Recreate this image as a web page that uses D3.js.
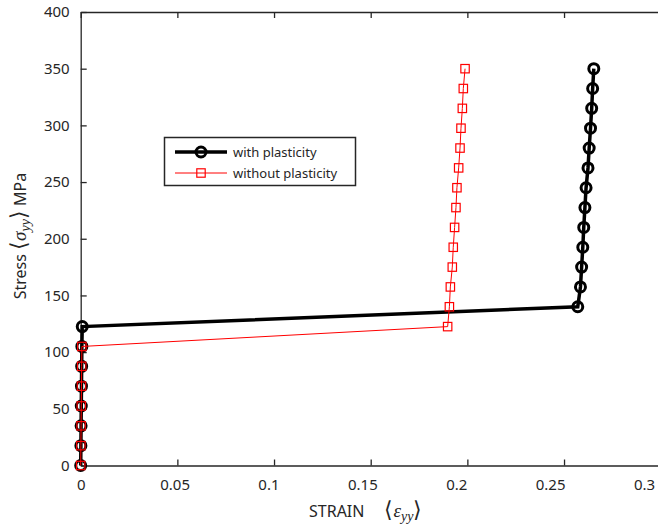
<!DOCTYPE html>
<html>
<head>
<meta charset="utf-8">
<script src="https://cdn.jsdelivr.net/npm/d3@7"></script>
<style>
  html, body { margin: 0; padding: 0; background: #fff; }
  svg { display: block; }
  .tick text { font-family: "Noto Sans", sans-serif; font-size: 15px; fill: #262626; }
</style>
</head>
<body>
<svg id="chart" width="658" height="528"></svg>
<script>
// Average stress (MPa) at each load step
const stressLevels = [0, 17.5, 35, 52.5, 70, 87.5, 105, 122.5, 140, 157.5, 175, 192.5,
                      210, 227.5, 245, 262.5, 280, 297.5, 315, 332.5, 350];

// Average strain with plasticity (one value per stress level)
const strainPlastic = [0, 0.0001, 0.0002, 0.0003, 0.0004, 0.0005, 0.0006, 0.0008,
                       0.2571, 0.2585, 0.2591, 0.2597, 0.2602, 0.2608, 0.2614,
                       0.2624, 0.2630, 0.2637, 0.2643, 0.2648, 0.2654];

// Average strain without plasticity (starts at 0 MPa, stops at 350 MPa)
const strainElastic = [0, 0.0001, 0.0002, 0.0003, 0.0004, 0.0005, 0.0006,
                       0.1898, 0.1907, 0.1912, 0.1922, 0.1927, 0.1934, 0.1941,
                       0.1946, 0.1955, 0.1962, 0.1967, 0.1974, 0.1979, 0.1988];

const xTicks = [0, 0.05, 0.1, 0.15, 0.2, 0.25, 0.3];
const yTicks = [0, 50, 100, 150, 200, 250, 300, 350, 400];
const seriesNames = ["with plasticity", "without plasticity"];

const svg = d3.select("#chart");
const axisColor = "#262626";

const x = d3.scaleLinear().domain([0, 0.3]).range([80.7, 660.7]);
const xLab = d3.scaleLinear().domain([0, 0.3]).range([80.7, 644]);
const y = d3.scaleLinear().domain([0, 400]).range([465.5, 12]);

const plastic = stressLevels.map((s, i) => ({ e: strainPlastic[i], s }));
const elastic = stressLevels.map((s, i) => ({ e: strainElastic[i], s }));

// Axes: inward ticks on bottom, top and left
const gBottom = svg.append("g").attr("transform", `translate(0,${y(0)})`)
  .call(d3.axisBottom(x).tickValues(xTicks).tickFormat("").tickSizeInner(-6).tickSizeOuter(0));
const gBottomLab = svg.append("g").attr("transform", `translate(0,${y(0)})`)
  .call(d3.axisBottom(xLab).tickValues(xTicks).tickFormat(d3.format("~g")).tickSize(0).tickPadding(14));
gBottomLab.select(".domain").remove();
const gTop = svg.append("g").attr("transform", `translate(0,${y(400)})`)
  .call(d3.axisTop(x).tickValues(xTicks).tickFormat("").tickSizeInner(-6).tickSizeOuter(0));
const gLeft = svg.append("g").attr("transform", `translate(${x(0)},0)`)
  .call(d3.axisLeft(y).tickValues(yTicks).tickSizeInner(-6).tickSizeOuter(0).tickPadding(11));

[gBottom, gTop, gLeft].forEach(g => {
  g.select(".domain").attr("stroke", axisColor).attr("stroke-width", 1.3);
  g.selectAll(".tick line").attr("stroke", axisColor).attr("stroke-width", 1.3);
});

// Series lines
const line = d3.line().x(d => x(d.e)).y(d => y(d.s));

svg.append("path").datum(plastic)
  .attr("d", line).attr("fill", "none").attr("stroke", "#000").attr("stroke-width", 3.5);
svg.append("g").selectAll("circle").data(plastic).join("circle")
  .attr("cx", d => x(d.e)).attr("cy", d => y(d.s)).attr("r", 5)
  .attr("fill", "none").attr("stroke", "#000").attr("stroke-width", 3);

svg.append("path").datum(elastic)
  .attr("d", line).attr("fill", "none").attr("stroke", "#ff0000").attr("stroke-width", 1);
svg.append("g").selectAll("rect").data(elastic).join("rect")
  .attr("x", d => x(d.e) - 4.2).attr("y", d => y(d.s) - 4.2)
  .attr("width", 8.4).attr("height", 8.4)
  .attr("fill", "none").attr("stroke", "#ff0000").attr("stroke-width", 1.2);

// Legend
const lg = svg.append("g");
lg.append("rect").attr("x", 164.5).attr("y", 137.5).attr("width", 191).attr("height", 48)
  .attr("fill", "#fff").attr("stroke", axisColor).attr("stroke-width", 1.5);
const rows = [
  { name: seriesNames[0], yy: 152, color: "#000", w: 3.5, mark: "circle" },
  { name: seriesNames[1], yy: 173, color: "#ff0000", w: 1, mark: "square" }
];
rows.forEach(r => {
  lg.append("line").attr("x1", 175).attr("x2", 227).attr("y1", r.yy).attr("y2", r.yy)
    .attr("stroke", r.color).attr("stroke-width", r.w);
  if (r.mark === "circle") {
    lg.append("circle").attr("cx", 201).attr("cy", r.yy).attr("r", 5)
      .attr("fill", "none").attr("stroke", r.color).attr("stroke-width", 3);
  } else {
    lg.append("rect").attr("x", 196.8).attr("y", r.yy - 4.2).attr("width", 8.4).attr("height", 8.4)
      .attr("fill", "none").attr("stroke", r.color).attr("stroke-width", 1.2);
  }
  lg.append("text").attr("x", 233).attr("y", r.yy + 4.5)
    .attr("font-family", "Noto Sans, sans-serif").attr("font-size", 13).attr("fill", axisColor)
    .text(r.name);
});

// Axis titles
const xt = svg.append("text").attr("x", 309).attr("y", 517)
  .attr("font-family", "Noto Sans, sans-serif").attr("font-size", 16).attr("fill", axisColor);
xt.append("tspan").text("STRAIN");
xt.append("tspan").attr("dx", 20).attr("font-family", "Liberation Serif, serif").attr("font-size", 22).text("⟨");
xt.append("tspan").attr("font-family", "Liberation Serif, serif").attr("font-style", "italic").attr("font-size", 19).text("ε");
xt.append("tspan").attr("font-family", "Liberation Serif, serif").attr("font-style", "italic").attr("font-size", 14).attr("dy", 4).text("yy");
xt.append("tspan").attr("dy", -4).attr("font-family", "Liberation Serif, serif").attr("font-size", 22).text("⟩");

const yt = svg.append("text").attr("transform", "translate(26,236) rotate(-90)")
  .attr("text-anchor", "middle")
  .attr("font-family", "Noto Sans, sans-serif").attr("font-size", 16).attr("fill", axisColor);
yt.append("tspan").text("Stress ");
yt.append("tspan").attr("font-family", "Liberation Serif, serif").attr("font-size", 22).text("⟨");
yt.append("tspan").attr("font-family", "Liberation Serif, serif").attr("font-style", "italic").attr("font-size", 19).text("σ");
yt.append("tspan").attr("font-family", "Liberation Serif, serif").attr("font-style", "italic").attr("font-size", 14).attr("dy", 4).text("yy");
yt.append("tspan").attr("dy", -4).attr("font-family", "Liberation Serif, serif").attr("font-size", 22).text("⟩");
yt.append("tspan").text(" MPa");
</script>
</body>
</html>
